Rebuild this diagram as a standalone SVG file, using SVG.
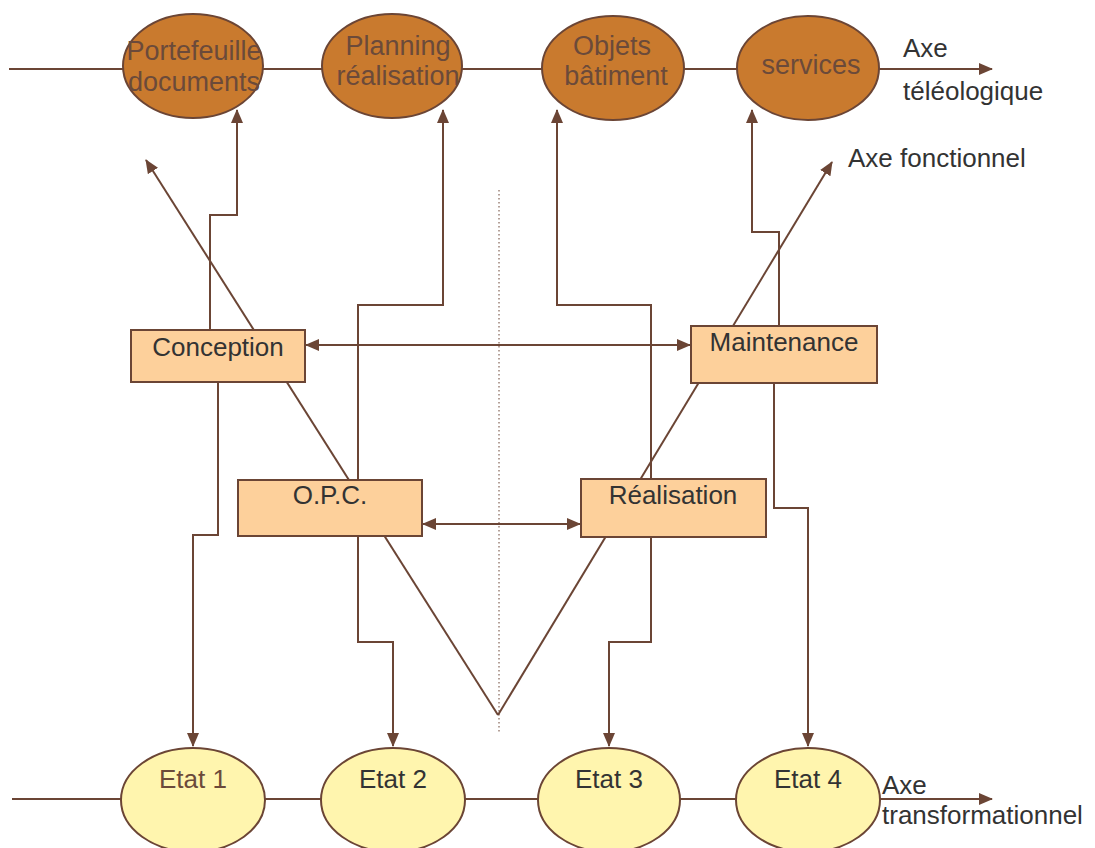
<svg xmlns="http://www.w3.org/2000/svg" width="1095" height="848" viewBox="0 0 1095 848">
<defs>
<marker id="ah" markerWidth="14" markerHeight="12" refX="13" refY="6" orient="auto-start-reverse" markerUnits="userSpaceOnUse" viewBox="0 0 14 12"><path d="M0,0 L14,6 L0,12 Z" fill="#6b4535"/></marker>
<style>
.ln{stroke:#6b4535;stroke-width:2;fill:none}
.ax{stroke:#6b4535;stroke-width:2;fill:none}
.top{fill:#c97a2e;stroke:#6b4535;stroke-width:2}
.bot{fill:#fff5ae;stroke:#6b4535;stroke-width:2}
.box{fill:#fdd09b;stroke:#6b4535;stroke-width:2}
.tt{font-family:"Liberation Sans",Arial,sans-serif;font-size:27px;fill:#6b4a3a;text-anchor:middle}
.bt{font-family:"Liberation Sans",Arial,sans-serif;font-size:26px;fill:#333;text-anchor:middle}
.et{font-family:"Liberation Sans",Arial,sans-serif;font-size:26px;text-anchor:middle}
.lb{font-family:"Liberation Sans",Arial,sans-serif;font-size:26px;fill:#333}
</style>
</defs>
<rect width="1095" height="848" fill="#fff"/>
<g id="axes">
<line class="ax" x1="9" y1="69" x2="992" y2="69" marker-end="url(#ah)"/>
<line class="ax" x1="12" y1="799" x2="992" y2="799" marker-end="url(#ah)"/>
<line x1="499" y1="190" x2="499" y2="732" stroke="#6b4535" stroke-width="1" stroke-dasharray="1.5,2.5"/>
</g>
<g id="connectors">
<line class="ln" x1="498" y1="715" x2="146" y2="160" marker-end="url(#ah)"/>
<line class="ln" x1="498" y1="715" x2="832" y2="162" marker-end="url(#ah)"/>
<polyline class="ln" points="210,330 210,215 237,215 237,110" marker-end="url(#ah)"/>
<polyline class="ln" points="358,480 358,305 443,305 443,110" marker-end="url(#ah)"/>
<polyline class="ln" points="651,478 651,305 557,305 557,110" marker-end="url(#ah)"/>
<polyline class="ln" points="779,326 779,232 752,232 752,110" marker-end="url(#ah)"/>
<line class="ln" x1="306" y1="345" x2="690" y2="345" marker-start="url(#ah)" marker-end="url(#ah)"/>
<line class="ln" x1="423" y1="524" x2="580" y2="524" marker-start="url(#ah)" marker-end="url(#ah)"/>
<polyline class="ln" points="218,382 218,535 193,535 193,746" marker-end="url(#ah)"/>
<polyline class="ln" points="358,536 358,642 393,642 393,746" marker-end="url(#ah)"/>
<polyline class="ln" points="651,537 651,642 609,642 609,746" marker-end="url(#ah)"/>
<polyline class="ln" points="774,383 774,508 808,508 808,746" marker-end="url(#ah)"/>
</g>
<g id="portefeuille"><ellipse class="top" cx="193" cy="66" rx="70" ry="52"/><text class="tt" x="194" y="60">Portefeuille</text><text class="tt" x="194" y="91">documents</text></g>
<g id="planning"><ellipse class="top" cx="392" cy="66" rx="70" ry="52"/><text class="tt" x="398" y="55">Planning</text><text class="tt" x="398" y="85">réalisation</text></g>
<g id="objets"><ellipse class="top" cx="613" cy="68" rx="71" ry="52"/><text class="tt" x="612" y="55">Objets</text><text class="tt" x="616" y="85">bâtiment</text></g>
<g id="services"><ellipse class="top" cx="808" cy="68" rx="71" ry="52"/><text class="tt" x="811" y="74">services</text></g>
<g id="conception"><rect class="box" x="131" y="330" width="174" height="52"/><text class="bt" x="218" y="356">Conception</text></g>
<g id="maintenance"><rect class="box" x="691" y="326" width="186" height="57"/><text class="bt" x="784" y="351">Maintenance</text></g>
<g id="opc"><rect class="box" x="238" y="480" width="184" height="56"/><text class="bt" x="330" y="504">O.P.C.</text></g>
<g id="realisation"><rect class="box" x="581" y="479" width="185" height="58"/><text class="bt" x="673" y="504">Réalisation</text></g>
<g id="etat1"><ellipse class="bot" cx="193" cy="800" rx="72" ry="52"/><text class="et" fill="#6b4a3a" x="193" y="788">Etat 1</text></g>
<g id="etat2"><ellipse class="bot" cx="393" cy="800" rx="72" ry="52"/><text class="et" fill="#333" x="393" y="788">Etat 2</text></g>
<g id="etat3"><ellipse class="bot" cx="609" cy="800" rx="71" ry="52"/><text class="et" fill="#333" x="609" y="788">Etat 3</text></g>
<g id="etat4"><ellipse class="bot" cx="808" cy="800" rx="72" ry="52"/><text class="et" fill="#333" x="808" y="788">Etat 4</text></g>
<g id="labels">
<text class="lb" x="903" y="57">Axe</text>
<text class="lb" x="903" y="100">téléologique</text>
<text class="lb" x="848" y="167">Axe fonctionnel</text>
<text class="lb" x="882" y="794">Axe</text>
<text class="lb" x="882" y="824">transformationnel</text>
</g>
</svg>
